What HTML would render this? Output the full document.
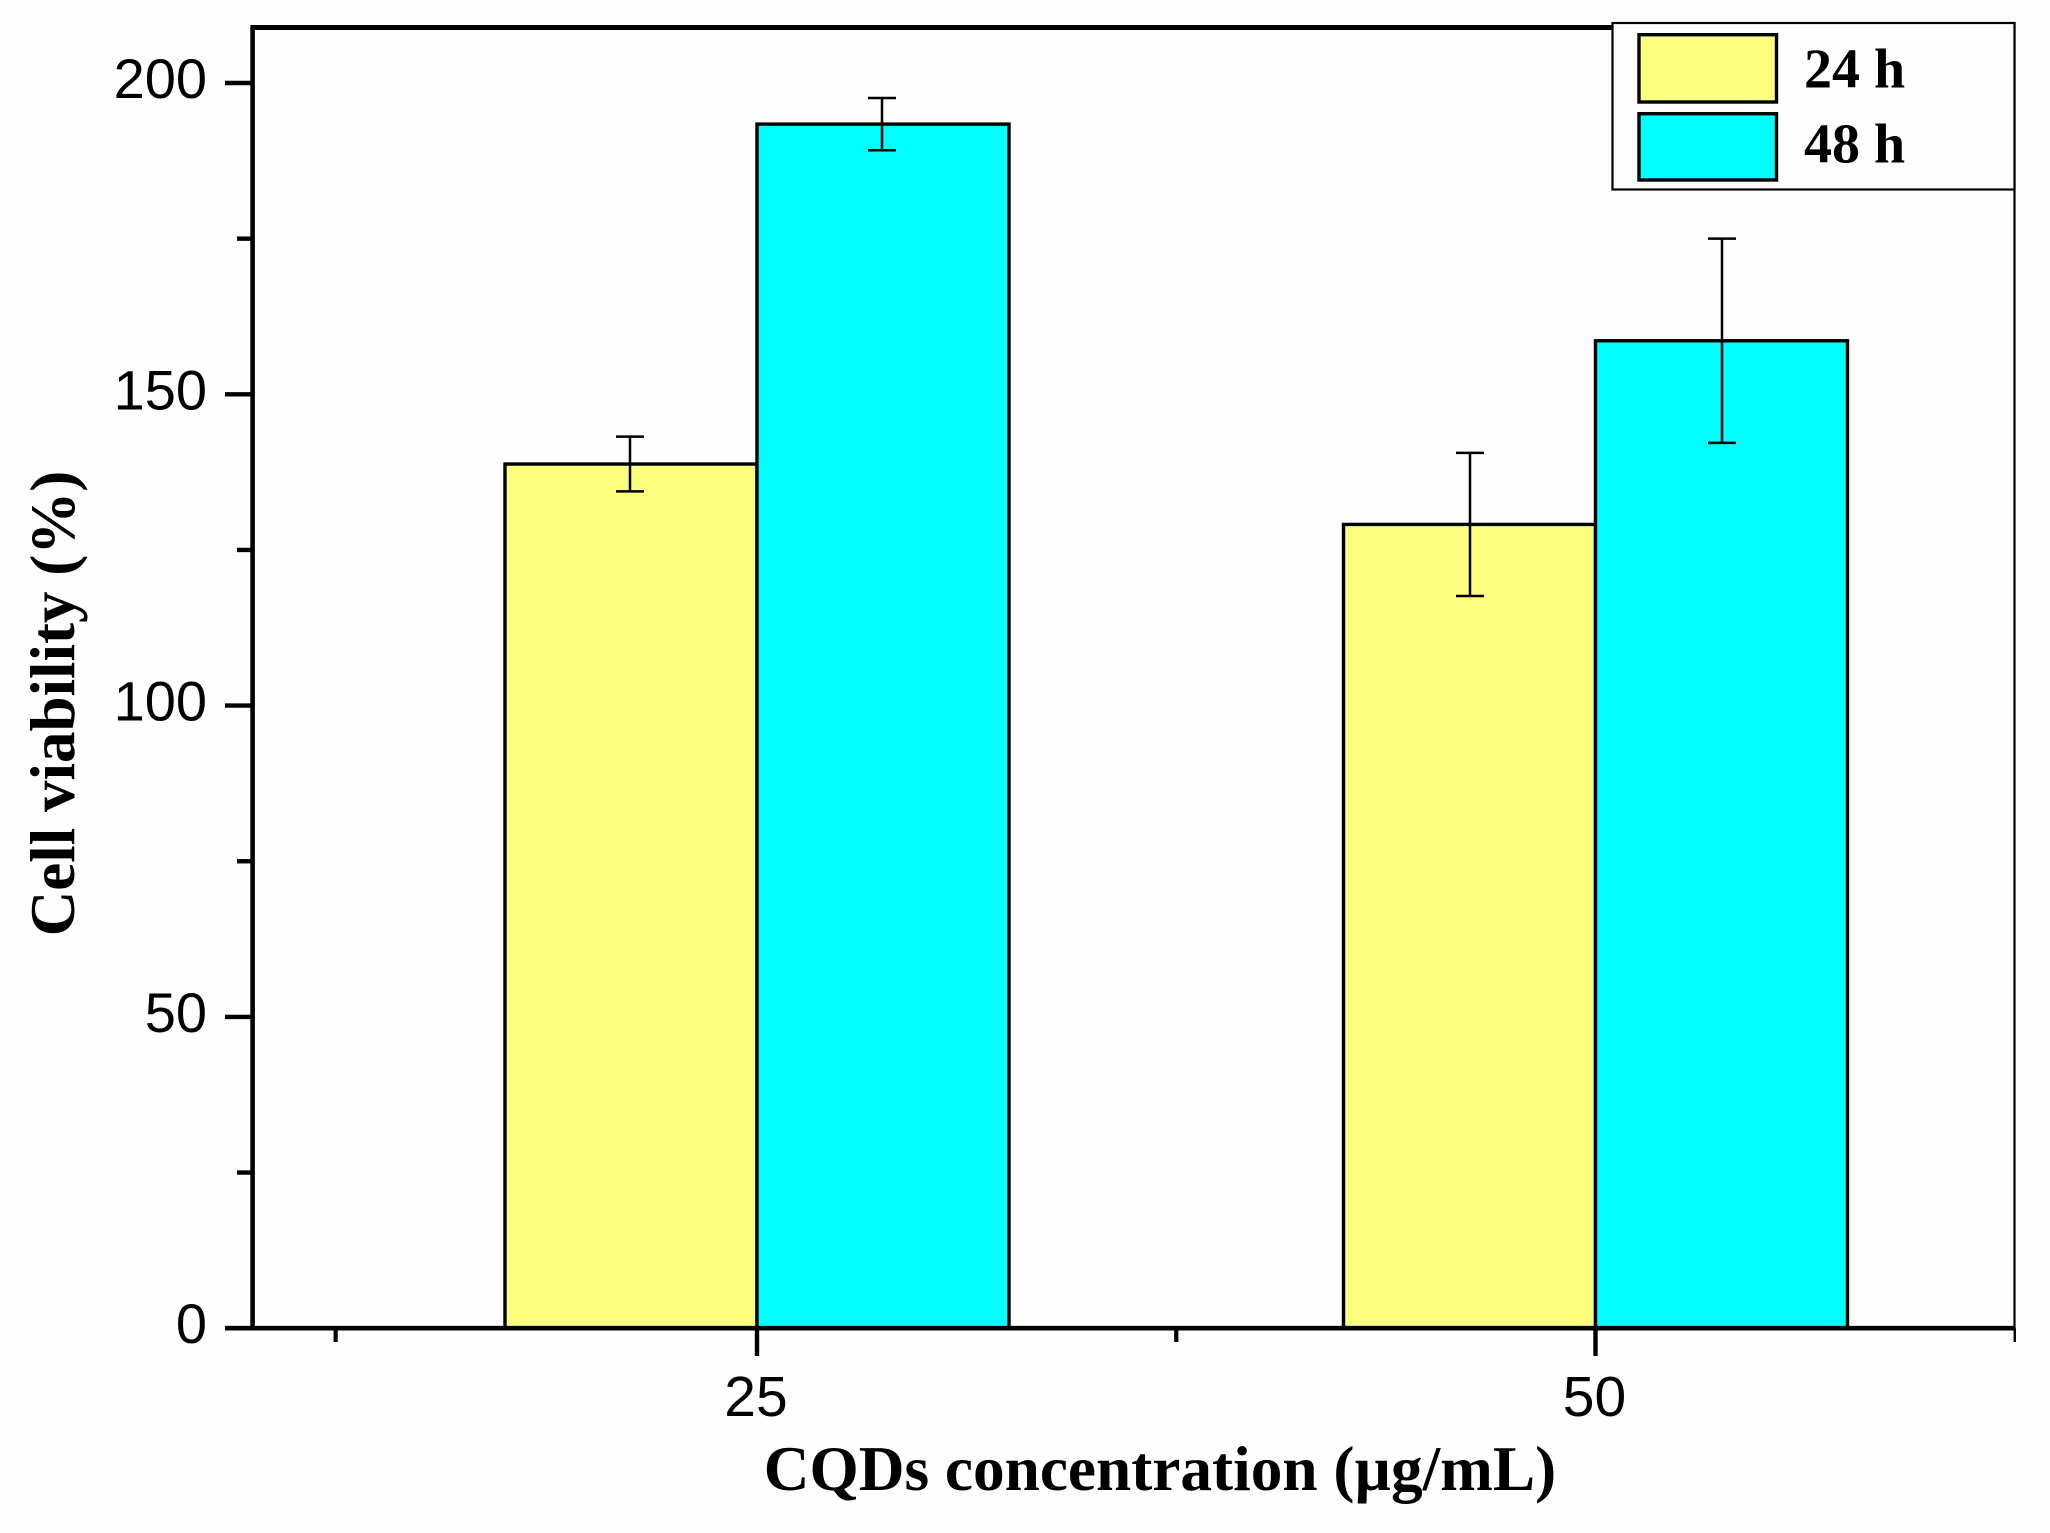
<!DOCTYPE html>
<html lang="en">
<head>
<meta charset="utf-8">
<title>Cell viability chart</title>
<style>
html,body{margin:0;padding:0;background:#fefefe;}
svg{display:block;}
.sans{font-family:"Liberation Sans",Arial,sans-serif;}
.serif{font-family:"Liberation Serif","Times New Roman",serif;font-weight:bold;}
</style>
</head>
<body>
<svg id="chart" xmlns="http://www.w3.org/2000/svg" width="2050" height="1533" viewBox="0 0 2050 1533">
<rect x="0" y="0" width="2050" height="1533" fill="#fefefe"/>
</svg>
<script>
const categories = ['25', '50'];
const series24hValues = [138.8, 129.1];
const series24hErrors = [4.4, 11.5];
const series48hValues = [193.4, 158.6];
const series48hErrors = [4.2, 16.4];
const majorYTicks = [0, 50, 100, 150, 200];
const minorYTicks = [25, 75, 125, 175];
const minorXTicks = [-0.5025, 0.5, 1.5];
const xAxisTitle = 'CQDs concentration (\u00b5g/mL)';
const yAxisTitle = 'Cell viability (%)';

const svg = document.getElementById('chart');
const NS = 'http://www.w3.org/2000/svg';
const PLOT_LEFT = 252.6;
const PLOT_RIGHT = 2014.5;
const PLOT_TOP = 27.5;
const BAR_WIDTH = 252;

function yScale(v) { return 1328.2 - v * 6.226; }
function xScale(c) { return 757 + c * 838.5; }

function make(tag, props) {
  const el = document.createElementNS(NS, tag);
  for (const k in props) el.setAttribute(k, props[k]);
  svg.appendChild(el);
  return el;
}
function line(x1, y1, x2, y2, w) {
  return make('line', {x1: x1, y1: y1, x2: x2, y2: y2, stroke: '#000', 'stroke-width': w});
}
function drawBar(cat, side, value, fill, key) {
  const x = xScale(cat) + side * BAR_WIDTH;
  const y = yScale(value);
  const bar = make('rect', {x: x, y: y, width: BAR_WIDTH, height: yScale(0) - y, fill: fill, stroke: '#000', 'stroke-width': 3.4});
  
  
}
function drawError(cat, side, value, err, key) {
  const cx = xScale(cat) + (side + 0.5) * BAR_WIDTH - 1 + 1.5 * cat;
  const group = make('g', {});
  
  
  const parts = [
    [cx, yScale(value + err), cx, yScale(value - err)],
    [cx - 14, yScale(value + err), cx + 14, yScale(value + err)],
    [cx - 14, yScale(value - err), cx + 14, yScale(value - err)]
  ];
  parts.forEach(function (p) {
    const l = line(p[0], p[1], p[2], p[3], 2.5);
    group.appendChild(l);
  });
}

/* bars */
categories.forEach(function (c, i) {
  drawBar(i, -1, series24hValues[i], '#ffff7f', '24h');
  drawBar(i, 0, series48hValues[i], '#00ffff', '48h');
});
categories.forEach(function (c, i) {
  drawError(i, -1, series24hValues[i], series24hErrors[i], '24h');
  drawError(i, 0, series48hValues[i], series48hErrors[i], '48h');
});

/* axes frame */
const topAxis = line(PLOT_LEFT - 2.2, PLOT_TOP, 1613, PLOT_TOP, 5);


const leftAxis = line(PLOT_LEFT, PLOT_TOP, PLOT_LEFT, yScale(0), 4.6);


const rightAxis = line(PLOT_RIGHT, 22, PLOT_RIGHT, yScale(0), 2.2);


const bottomAxis = line(225, yScale(0), PLOT_RIGHT + 1, yScale(0), 4.6);



/* y ticks */
majorYTicks.forEach(function (v) {
  const t = line(225, yScale(v), PLOT_LEFT, yScale(v), 4.4);
  
  
  const label = make('text', {x: 207, y: yScale(v) + 15, 'text-anchor': 'end', 'font-size': 56, fill: '#000', class: 'sans'});
  label.textContent = String(v);
  
  
});
minorYTicks.forEach(function (v) {
  const t = line(237, yScale(v), PLOT_LEFT, yScale(v), 4.4);
  
  
});

/* x ticks */
categories.forEach(function (c, i) {
  const t = line(xScale(i), yScale(0), xScale(i), 1356, 4.4);
  
  
  const label = make('text', {x: xScale(i) - 1, y: 1416, 'text-anchor': 'middle', 'font-size': 57, fill: '#000', class: 'sans'});
  label.textContent = c;
  
  
});
minorXTicks.forEach(function (c) {
  const t = line(xScale(c), yScale(0), xScale(c), 1342, c === 1.5 ? 2.4 : 4.2);
  
  
});

/* axis titles */
const xTitle = make('text', {x: 1160, y: 1490, 'text-anchor': 'middle', 'font-size': 63.3, fill: '#000', class: 'serif'});
xTitle.textContent = xAxisTitle;



const yTitle = make('text', {x: 0, y: 0, transform: 'translate(74 703.5) rotate(-90)', 'text-anchor': 'middle', 'font-size': 63, fill: '#000', class: 'serif'});
yTitle.textContent = yAxisTitle;



/* legend */
const legendBox = make('rect', {x: 1612.5, y: 23, width: 402, height: 166.5, fill: '#fefefe', stroke: '#000', 'stroke-width': 2.2});



const swatch24 = make('rect', {x: 1639, y: 34.7, width: 137.5, height: 67.3, fill: '#ffff7f', stroke: '#000', 'stroke-width': 3.4});


const text24 = make('text', {x: 1804, y: 87.3, 'font-size': 56, fill: '#000', class: 'serif'});
text24.textContent = '24 h';



const swatch48 = make('rect', {x: 1639, y: 113.7, width: 137.5, height: 66.3, fill: '#00ffff', stroke: '#000', 'stroke-width': 3.4});


const text48 = make('text', {x: 1804, y: 162.7, 'font-size': 56, fill: '#000', class: 'serif'});
text48.textContent = '48 h';


</script>
</body>
</html>
